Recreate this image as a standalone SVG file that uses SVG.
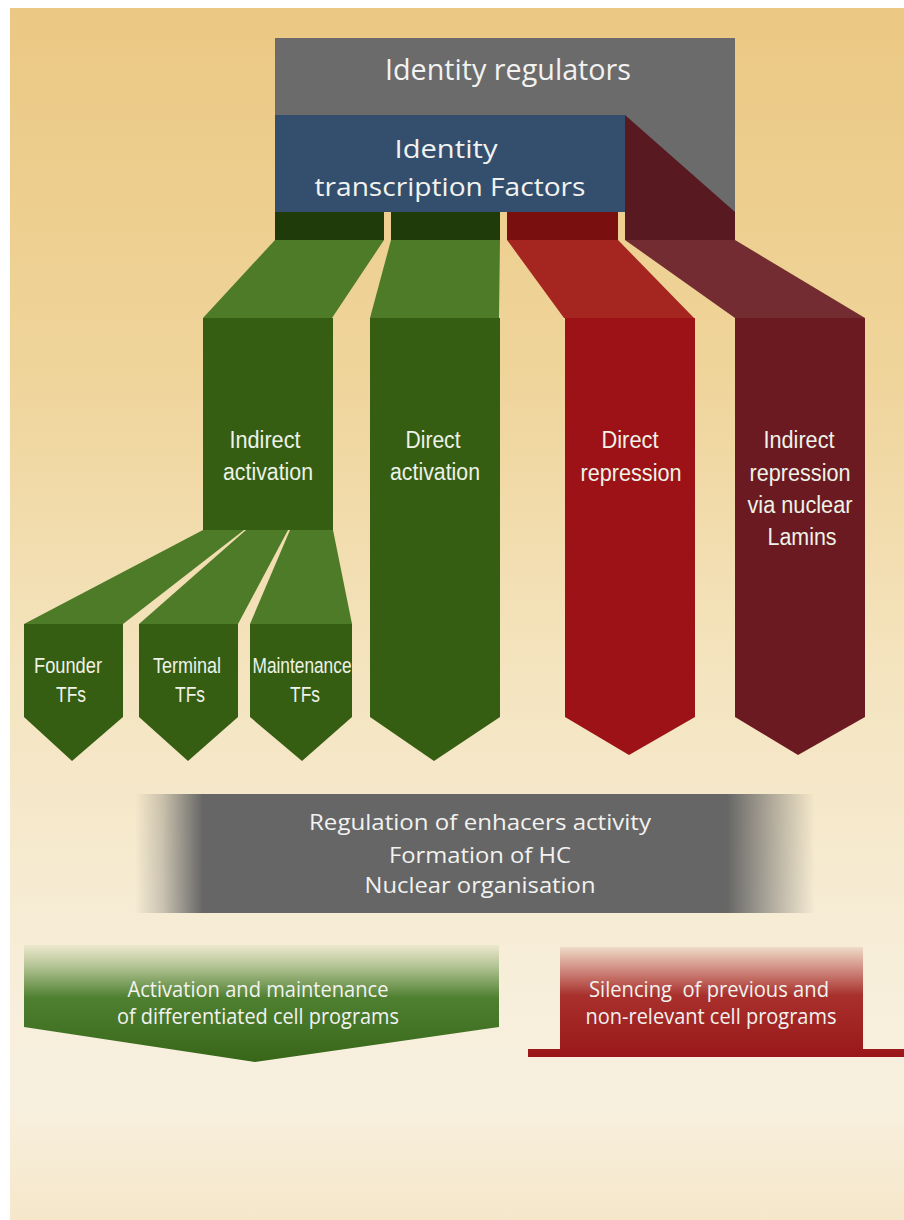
<svg xmlns="http://www.w3.org/2000/svg" width="904" height="1220" viewBox="0 0 904 1220">
<defs>
<linearGradient id="bg" x1="0" y1="0" x2="0" y2="1">
<stop offset="0" stop-color="#EBC883"/>
<stop offset="0.3" stop-color="#EFD49A"/>
<stop offset="0.55" stop-color="#F4E4BF"/>
<stop offset="0.8" stop-color="#F7EEDA"/>
<stop offset="0.9" stop-color="#F8F0DF"/>
<stop offset="1" stop-color="#F5E7CA"/>
</linearGradient>
<linearGradient id="barg" x1="0" y1="0" x2="1" y2="0">
<stop offset="0" stop-color="#666" stop-opacity="0"/>
<stop offset="0.04" stop-color="#666" stop-opacity="0.3"/>
<stop offset="0.1" stop-color="#666" stop-opacity="1"/>
<stop offset="0.87" stop-color="#666" stop-opacity="1"/>
<stop offset="0.94" stop-color="#666" stop-opacity="0.45"/>
<stop offset="1" stop-color="#666" stop-opacity="0"/>
</linearGradient>
<linearGradient id="greeng" gradientUnits="userSpaceOnUse" x1="0" y1="945" x2="0" y2="1062">
<stop offset="0" stop-color="#EDE8CD"/>
<stop offset="0.18" stop-color="#B4C495"/>
<stop offset="0.45" stop-color="#4F8030"/>
<stop offset="1" stop-color="#376619"/>
</linearGradient>
<linearGradient id="redg" gradientUnits="userSpaceOnUse" x1="0" y1="945" x2="0" y2="1057">
<stop offset="0" stop-color="#F1E2CE"/>
<stop offset="0.22" stop-color="#D08A80"/>
<stop offset="0.45" stop-color="#A8302C"/>
<stop offset="1" stop-color="#9A1719"/>
</linearGradient>
<style>
.tw{fill:#EEF2E8;font-family:"Liberation Sans",Arial,sans-serif;font-size:23px;text-anchor:middle}
.ts{fill:#EEF2E8;font-family:"Liberation Sans",Arial,sans-serif;font-size:22px;text-anchor:middle}
.tm{fill:#F2F2F0;font-family:"Open Sans","Noto Sans",sans-serif;text-anchor:middle}
.gd{fill:#355E13}
.gl{fill:#4E7B28}
</style>
</defs>
<rect x="0" y="0" width="904" height="1220" fill="#FFFFFF"/>
<rect x="10" y="8" width="894" height="1212" fill="url(#bg)"/>

<g id="identity-regulators">
<rect x="275" y="38" width="460" height="174" fill="#6B6B6B"/>
<text class="tm" x="508" y="80" font-size="29" textLength="246" lengthAdjust="spacingAndGlyphs">Identity regulators</text>
</g>

<g id="identity-tfs">
<rect x="275" y="115" width="350" height="97" fill="#334F6D"/>
<text class="tm" x="446" y="158" font-size="26" textLength="103" lengthAdjust="spacingAndGlyphs">Identity</text>
<text class="tm" x="450" y="196" font-size="26" textLength="271" lengthAdjust="spacingAndGlyphs">transcription Factors</text>
</g>

<g id="connectors">
<rect x="275" y="212" width="109" height="28" fill="#1F3B0A"/>
<rect x="391" y="212" width="109" height="28" fill="#1F3B0A"/>
<rect x="507" y="212" width="111" height="28" fill="#7A0F10"/>
<polygon points="625,115 735,212 735,240 625,240" fill="#581920"/>
<polygon points="275,240 384,240 332,318 203,318" class="gl"/>
<polygon points="391,240 500,240 499,318 370,318" class="gl"/>
<polygon points="507,240 618,240 694,318 564,318" fill="#A52521"/>
<polygon points="625,240 735,240 865,318 735,318" fill="#732C31"/>
<polygon points="203,530 244,530 123,624 24,624" class="gl"/>
<polygon points="246,530 288,530 238,624 139,624" class="gl"/>
<polygon points="290,530 333,530 352,624 250,624" class="gl"/>
</g>

<g id="indirect-activation">
<rect x="203" y="318" width="130" height="212" class="gd"/>
<text class="tw" x="265" y="448" textLength="71" lengthAdjust="spacingAndGlyphs">Indirect</text>
<text class="tw" x="268" y="480" textLength="90" lengthAdjust="spacingAndGlyphs">activation</text>
</g>

<g id="direct-activation">
<polygon points="370,318 500,318 500,717 434,761 370,717" class="gd"/>
<text class="tw" x="433" y="448" textLength="55" lengthAdjust="spacingAndGlyphs">Direct</text>
<text class="tw" x="435" y="480" textLength="90" lengthAdjust="spacingAndGlyphs">activation</text>
</g>

<g id="direct-repression">
<polygon points="565,318 695,318 695,717 629,755 565,717" fill="#9D1216"/>
<text class="tw" x="630" y="448" textLength="57" lengthAdjust="spacingAndGlyphs">Direct</text>
<text class="tw" x="631" y="481" textLength="101" lengthAdjust="spacingAndGlyphs">repression</text>
</g>

<g id="indirect-repression">
<polygon points="735,318 865,318 865,717 798,755 735,717" fill="#6C1A21"/>
<text class="tw" x="799" y="448" textLength="71" lengthAdjust="spacingAndGlyphs">Indirect</text>
<text class="tw" x="800" y="481" textLength="101" lengthAdjust="spacingAndGlyphs">repression</text>
<text class="tw" x="800" y="513" textLength="105" lengthAdjust="spacingAndGlyphs">via nuclear</text>
<text class="tw" x="802" y="545" textLength="69" lengthAdjust="spacingAndGlyphs">Lamins</text>
</g>

<g id="founder-tfs">
<polygon points="24,624 123,624 123,717 72,761 24,717" class="gd"/>
<text class="ts" x="68" y="673" textLength="68" lengthAdjust="spacingAndGlyphs">Founder</text>
<text class="ts" x="71" y="702" textLength="30" lengthAdjust="spacingAndGlyphs">TFs</text>
</g>

<g id="terminal-tfs">
<polygon points="139,624 238,624 238,717 188,761 139,717" class="gd"/>
<text class="ts" x="187" y="673" textLength="68" lengthAdjust="spacingAndGlyphs">Terminal</text>
<text class="ts" x="190" y="702" textLength="30" lengthAdjust="spacingAndGlyphs">TFs</text>
</g>

<g id="maintenance-tfs">
<polygon points="250,624 352,624 352,717 302,761 250,717" class="gd"/>
<text class="ts" x="302" y="673" textLength="99" lengthAdjust="spacingAndGlyphs">Maintenance</text>
<text class="ts" x="305" y="702" textLength="30" lengthAdjust="spacingAndGlyphs">TFs</text>
</g>

<g id="chromatin-bar">
<rect x="135" y="794" width="680" height="119" fill="url(#barg)"/>
<text class="tm" x="480" y="830" font-size="22" textLength="342" lengthAdjust="spacingAndGlyphs">Regulation of enhacers activity</text>
<text class="tm" x="480" y="863" font-size="22" textLength="182" lengthAdjust="spacingAndGlyphs">Formation of HC</text>
<text class="tm" x="480" y="893" font-size="22" textLength="231" lengthAdjust="spacingAndGlyphs">Nuclear organisation</text>
</g>

<g id="activation-programs">
<polygon points="24,945 499,945 499,1027 255,1062 24,1027" fill="url(#greeng)"/>
<text class="tm" x="258" y="997" font-size="21" textLength="261" lengthAdjust="spacingAndGlyphs">Activation and maintenance</text>
<text class="tm" x="258" y="1024" font-size="21" textLength="282" lengthAdjust="spacingAndGlyphs">of differentiated cell programs</text>
</g>

<g id="silencing-programs">
<polygon points="560,947 863,947 863,1049 904,1049 904,1057 528,1057 528,1049 560,1049" fill="url(#redg)"/>
<text class="tm" x="709" y="997" font-size="21" textLength="240" lengthAdjust="spacingAndGlyphs" xml:space="preserve">Silencing  of previous and</text>
<text class="tm" x="711" y="1024" font-size="21" textLength="251" lengthAdjust="spacingAndGlyphs">non-relevant cell programs</text>
</g>
</svg>
